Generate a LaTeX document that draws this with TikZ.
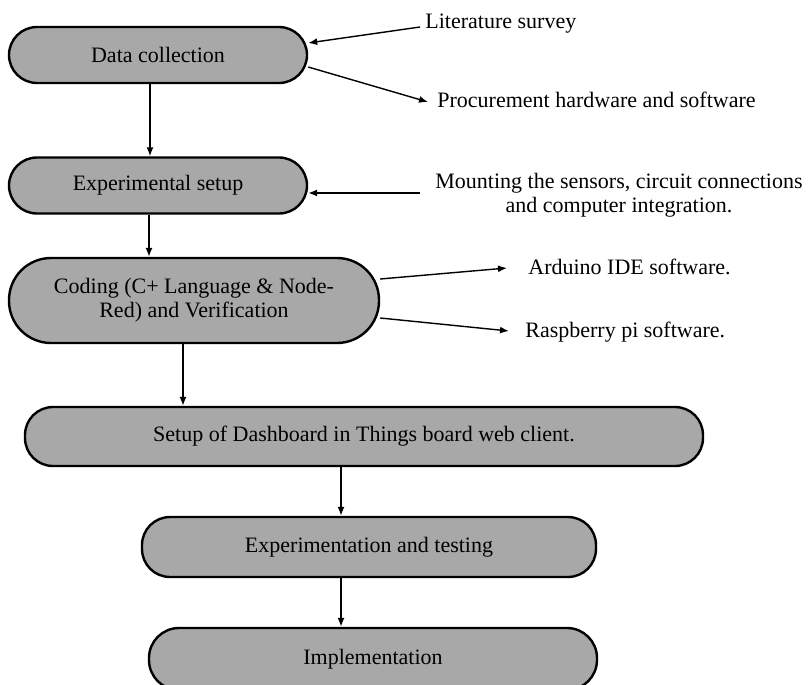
\documentclass[tikz,border=0pt]{standalone}
\usepackage{fontspec}
\setmainfont{Liberation Serif}
\usetikzlibrary{arrows.meta}
\definecolor{cStep}{RGB}{168, 168, 168}
\tikzset{
    stepBox/.style={
        draw,
        line width=1.2pt,
        fill=cStep,
        rounded corners=14pt,
        minimum height=28pt,
        inner sep=0pt,
        align=center
    },
    nodeNote/.style={
        inner sep=0pt,
        anchor=west
    },
    edgeFlow/.style={
        arrows=-{Latex[length=4.5pt,width=3.5pt]},
        line width=0.7pt
    },
    edgeNote/.style={
        arrows=-{Latex[length=4.5pt,width=3.5pt]},
        line width=0.7pt
    },
}

\begin{document}
\begin{tikzpicture}[x=0.5pt,y=-0.5pt,font=\fontsize{11}{12}\selectfont]
    \useasboundingbox (0,0) rectangle (809,685);

    % main steps
    \node[stepBox, minimum width=149pt] (sData) at (158, 55) {Data collection};
    \node[stepBox, minimum width=149pt] (sSetup) at (158, 185.5) {Experimental setup};
    \node[stepBox, minimum width=185pt, minimum height=42.5pt, rounded corners=21pt] (sCoding) at (194, 300.5) {Coding (C+ Language \& Node-\\Red) and Verification};
    \node[stepBox, minimum width=339pt, minimum height=29.5pt] (sBoard) at (364, 436.5) {Setup of Dashboard in Things board web client.};
    \node[stepBox, minimum width=227pt, minimum height=30pt] (sTest) at (369, 547) {Experimentation and testing};
    \node[stepBox, minimum width=224pt, minimum height=31pt, rounded corners=15pt] (sImpl) at (373, 659) {Implementation};

    % side notes
    \node[nodeNote] (nLit) at (425, 24) {Literature survey};
    \node[nodeNote] (nProc) at (437, 100) {Procurement hardware and software};
    \node[nodeNote, align=center] (nMount) at (435, 195) {Mounting the sensors, circuit connections\\and computer integration.};
    \node[nodeNote] (nArd) at (528, 267) {Arduino IDE software.};
    \node[nodeNote] (nRasp) at (525, 332) {Raspberry pi software.};

    \draw[edgeFlow] ([xshift=-4pt]sData.south) -- ([xshift=-4pt]sSetup.north);
    \draw[edgeFlow] ([xshift=-4.5pt]sSetup.south) -- ([xshift=-22.5pt]sCoding.north);
    \draw[edgeFlow] ([xshift=-5.5pt]sCoding.south) -- ([xshift=-90.5pt]sBoard.north);
    \draw[edgeFlow] ([xshift=-11.5pt]sBoard.south) -- ([xshift=-14pt]sTest.north);
    \draw[edgeFlow] ([xshift=-14pt]sTest.south) -- ([xshift=-16pt]sImpl.north);

    \draw[edgeNote] ([xshift=-2.5pt,yshift=-1.5pt]nLit.west) -- ([yshift=6pt]sData.east);
    \draw[edgeNote] ([yshift=-6pt]sData.east) -- ([xshift=-4.5pt,yshift=-1pt]nProc.west);
    \draw[edgeNote] ([xshift=-7.5pt,yshift=1pt]nMount.west) -- ([yshift=-3.75pt]sSetup.east);
    \draw[edgeNote] ([yshift=10.75pt]sCoding.east) -- ([xshift=-10.5pt,yshift=-0.5pt]nArd.west);
    \draw[edgeNote] ([yshift=-8.75pt]sCoding.east) -- ([xshift=-8pt,yshift=0.5pt]nRasp.west);
\end{tikzpicture}
\end{document}
